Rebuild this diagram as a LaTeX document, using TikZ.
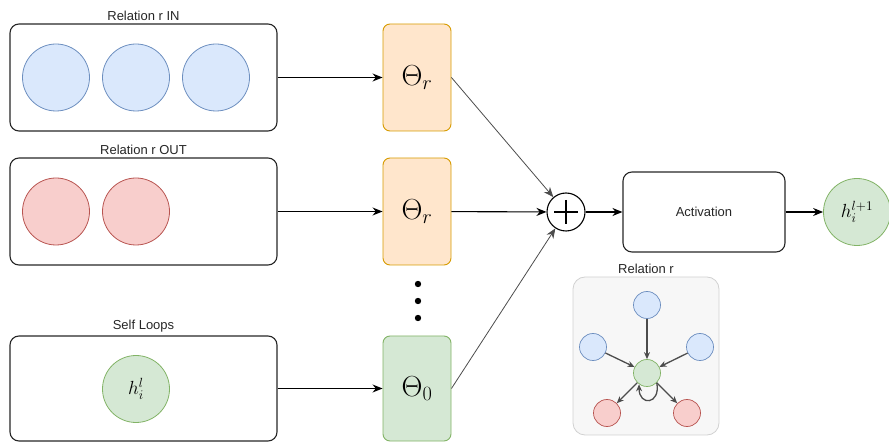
\RequirePackage{fix-cm}
\documentclass[tikz,border=0pt]{standalone}
\usepackage[no-math]{fontspec}
\newfontfamily\diagfont{Liberation Sans}
\usetikzlibrary{arrows.meta,positioning,calc}

\definecolor{inFill}{HTML}{DAE8FC}
\definecolor{inLine}{HTML}{6C8EBF}
\definecolor{outFill}{HTML}{F8CECC}
\definecolor{outLine}{HTML}{B85450}
\definecolor{selfFill}{HTML}{D5E8D4}
\definecolor{selfLine}{HTML}{82B366}
\definecolor{wFill}{HTML}{FFE6CC}
\definecolor{wLine}{HTML}{D79B00}

\begin{document}
\begin{tikzpicture}[
    x=1pt, y=-1pt,
    font=\diagfont\fontsize{13}{15}\selectfont,
    group/.style={rectangle, rounded corners=9pt, draw=black!85, line width=1.1pt,
                  minimum width=267pt, minimum height=107pt},
    caption/.style={above=2pt, inner sep=1pt, text=black!85},
    vertex/.style={circle, line width=0.8pt, minimum size=67pt, inner sep=0pt},
    invtx/.style={vertex, fill=inFill, draw=inLine},
    outvtx/.style={vertex, fill=outFill, draw=outLine},
    selfvtx/.style={vertex, fill=selfFill, draw=selfLine,
                    font=\fontsize{19}{21}\selectfont},
    weight/.style={rectangle, rounded corners=7pt, line width=0.9pt,
                   minimum width=68pt, minimum height=107pt,
                   font=\fontsize{29}{31}\selectfont},
    mini/.style={circle, line width=0.7pt, minimum size=27pt, inner sep=0pt},
    flow/.style={-{Stealth[length=10pt,width=8pt]}, line width=1.1pt},
    merge/.style={-{Stealth[length=10pt,width=8pt]}, line width=0.8pt, draw=black!70},
    inner/.style={-{Stealth[length=7pt,width=6pt]}, line width=1.3pt, draw=black!70}
]
  \useasboundingbox (0,0) rectangle (889,443);

  % Input groups
  \node[group] (relin) at (143.5,77.5) {};
  \node[caption] at (relin.north) {Relation r IN};
  \node[invtx] (in1) at (56,77.5) {};
  \node[invtx] (in2) at (136,77.5) {};
  \node[invtx] (in3) at (216,77.5) {};

  \node[group] (relout) at (143.5,211.5) {};
  \node[caption] at (relout.north) {Relation r OUT};
  \node[outvtx] (out1) at (56,211.5) {};
  \node[outvtx] (out2) at (136,211.5) {};

  \node[group, minimum height=105pt] (self) at (143.5,388.5) {};
  \node[caption] at (self.north) {Self Loops};
  \node[selfvtx] (hl) at (136,389) {$h_i^l$};

  % Weight matrices
  \node[weight, fill=wFill, draw=wLine] (thin) at (417,77.5) {$\Theta_r$};
  \node[weight, fill=wFill, draw=wLine] (thout) at (417,211.5) {$\Theta_r$};
  \node[weight, fill=selfFill, draw=selfLine, minimum height=105pt] (thself) at (417,388.5) {$\Theta_0$};
  \foreach \y in {284,301,318}
    \fill (418,\y) circle (3.2pt);

  % Sum, activation and output
  \node[circle, draw, line width=1.1pt, minimum size=38pt] (sum) at (566,212) {};
  \draw[line width=1.1pt] ($(sum)+(-12,0)$) -- ($(sum)+(12,0)$)
                          ($(sum)+(0,-12)$) -- ($(sum)+(0,12)$);
  \node[rectangle, rounded corners=9pt, draw=black!85, line width=1.1pt,
        minimum width=162pt, minimum height=80pt, text=black!85] (act) at (704,212) {Activation};
  \node[selfvtx] (hnext) at (857,212) {$h_i^{l+1}$};

  % Connectors
  \draw[flow] (relin) -- (thin);
  \draw[flow] (relout) -- (thout);
  \draw[flow] (self) -- (thself);
  \draw[merge] (thin.east) -- (sum);
  \draw[flow] (thout) -- (sum);
  \draw[merge] (thself.east) -- (sum);
  \draw[flow] (sum) -- (act);
  \draw[flow] (act) -- (hnext);

  % Relation r neighbourhood
  \node[rectangle, rounded corners=12pt, fill=black!3, draw=black!18, line width=0.8pt,
        minimum width=146pt, minimum height=158pt] (nbhd) at (646,356) {};
  \node[caption] at (nbhd.north) {Relation r};
  \node[mini, fill=inFill, draw=inLine] (ntop) at (647,305) {};
  \node[mini, fill=inFill, draw=inLine] (nleft) at (593,347) {};
  \node[mini, fill=inFill, draw=inLine] (nright) at (700,347) {};
  \node[mini, fill=selfFill, draw=selfLine] (ncenter) at (647,373) {};
  \node[mini, fill=outFill, draw=outLine] (nrl) at (607,413) {};
  \node[mini, fill=outFill, draw=outLine] (nrr) at (687,413) {};
  \draw[inner] (ntop) -- (ncenter);
  \draw[inner] (nleft) -- (ncenter);
  \draw[inner] (nright) -- (ncenter);
  \draw[inner] (ncenter) -- (nrl);
  \draw[inner] (ncenter) -- (nrr);
  \draw[inner] (ncenter.-45) .. controls +(4,22) and +(0,22) .. (ncenter.-125);
\end{tikzpicture}
\end{document}
